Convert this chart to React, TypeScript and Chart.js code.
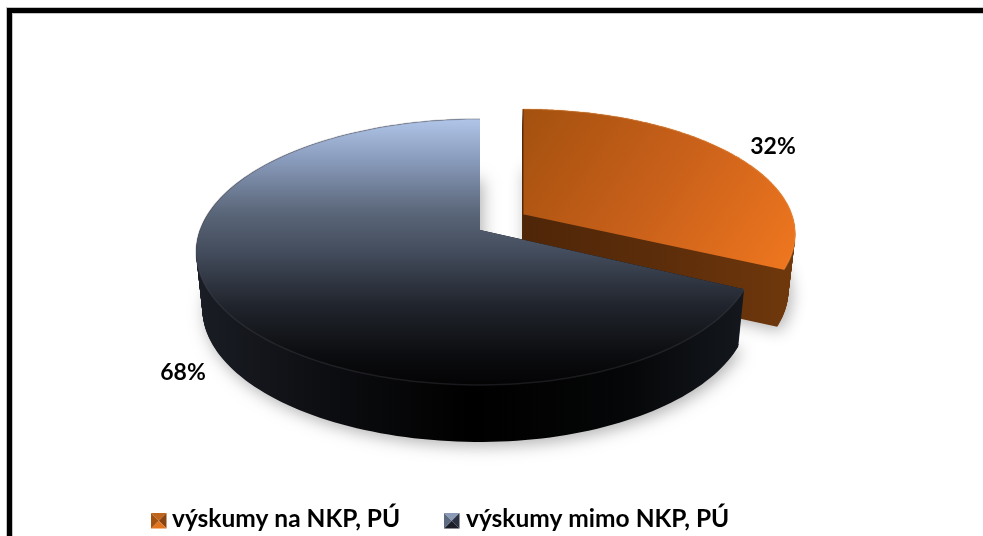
import React, { useEffect, useRef } from "react";
import { Chart, registerables } from "chart.js";

Chart.register(...registerables);

const categories = ["výskumy na NKP, PÚ", "výskumy mimo NKP, PÚ"];
const shares = [32, 68];
const FONT = "Lato, 'Open Sans', sans-serif";

// projection of the unit disc to the tilted, perspective view
const CX = 480, CY = 230, RX = 280, RY = 129.4, K = 0.165, DEPTH = 57;
const SLICE_VIEW = [
  { dx: 43, v: -0.125, scale: 0.98, right: 1 },
  { dx: 0, v: 0, scale: 1, right: 0.97 },
];
const LABEL_XY = [{ x: 773, y: 147 }, { x: 183, y: 373 }];
const LEGEND_XY = [{ marker: 151, text: 172 }, { marker: 444, text: 466 }];
const LEGEND_BASELINE = 527;
const MARKER_COLORS = [
  ["#c0651c", "#8a4410", "#e4751f", "#a3530f"],
  ["#8b9ab6", "#2b3040", "#1a1d25", "#5d6a80"],
];

type View = { dx: number; v: number; scale: number; right: number };

function project(u: number, v: number, s: View) {
  const w = 1 - K * v;
  const uu = u > 0 ? u * s.right : u;
  return { x: CX + s.dx + (RX * uu) / w, y: CY + (RY * v) / w };
}

function slicePoints(a0: number, a1: number, s: View) {
  const pts = [project(0, s.v, s)];
  const n = 160;
  for (let i = 0; i <= n; i++) {
    const a = a0 + ((a1 - a0) * i) / n;
    pts.push(project(s.scale * Math.cos(a), s.scale * Math.sin(a) + s.v, s));
  }
  return pts;
}

function pathOf(ctx: CanvasRenderingContext2D, pts: { x: number; y: number }[], d = 0) {
  const sx = 1 - (0.022 * d) / DEPTH;
  ctx.beginPath();
  pts.forEach((p, i) => {
    const x = CX + (p.x - CX) * sx;
    if (i) ctx.lineTo(x, p.y + d);
    else ctx.moveTo(x, p.y + d);
  });
  ctx.closePath();
}

function stops(g: CanvasGradient, list: [number, string][]) {
  list.forEach(([o, c]) => g.addColorStop(o, c));
  return g;
}

function drawMarker(ctx: CanvasRenderingContext2D, x0: number, y0: number, s: number, colors: string[]) {
  const tri = [
    [x0, y0, x0 + s, y0],
    [x0 + s, y0, x0 + s, y0 + s],
    [x0 + s, y0 + s, x0, y0 + s],
    [x0, y0 + s, x0, y0],
  ];
  tri.forEach((t, i) => {
    ctx.fillStyle = colors[i];
    ctx.beginPath();
    ctx.moveTo(t[0], t[1]);
    ctx.lineTo(t[2], t[3]);
    ctx.lineTo(x0 + s / 2, y0 + s / 2);
    ctx.closePath();
    ctx.fill();
  });
}

const pie3d = {
  id: "pie3d",
  beforeDraw(chart: any) {
    const ctx = chart.ctx;
    ctx.save();
    ctx.fillStyle = "#ffffff";
    ctx.fillRect(0, 0, chart.width, chart.height);
    ctx.fillStyle = "#c4c4c4";
    ctx.fillRect(6, 7, chart.width, 7);
    ctx.fillRect(6, 7, 7, chart.height);
    ctx.fillStyle = "#000000";
    ctx.fillRect(7, 8, chart.width, 5);
    ctx.fillRect(7, 8, 5, chart.height);
    ctx.restore();
  },
  beforeDatasetsDraw(chart: any) {
    const ctx: CanvasRenderingContext2D = chart.ctx;
    const meta = chart.getDatasetMeta(0);
    const sideStops: [number, string][][] = [
      [[0, "#4f2608"], [0.5, "#5c2d0a"], [1, "#70380c"]],
      [[0, "#1a1d25"], [0.25, "#0c0d10"], [0.5, "#000000"], [0.78, "#050607"], [1, "#14181e"]],
    ];
    const topFill = [
      stops(ctx.createLinearGradient(525, 110, 780, 280), [[0, "#a4510f"], [0.5, "#c8601a"], [1, "#ee761f"]]),
      stops(ctx.createLinearGradient(0, 119, 0, 386), [
        [0, "#b0c5e8"],
        [0.15, "#8a9cbd"],
        [0.35, "#5a6679"],
        [0.5, "#434c5c"],
        [0.7, "#20242c"],
        [0.88, "#0c0d10"],
        [1, "#030304"],
      ]),
    ];
    ctx.save();
    [0, 1].forEach((i) => {
      const arc = meta.data[i];
      const pts = slicePoints(arc.startAngle, arc.endAngle, SLICE_VIEW[i]);
      const xs = pts.map((p) => p.x);
      const side = stops(
        ctx.createLinearGradient(Math.min(...xs), 0, Math.max(...xs), 0),
        sideStops[i]
      );
      ctx.save();
      ctx.shadowColor = "rgba(0,0,0,0.3)";
      ctx.shadowBlur = 16;
      ctx.shadowOffsetX = 3;
      ctx.shadowOffsetY = 6;
      ctx.fillStyle = "#000";
      pathOf(ctx, pts, DEPTH - 2);
      ctx.fill();
      ctx.restore();
      ctx.fillStyle = side;
      for (let d = DEPTH; d >= 0; d--) {
        pathOf(ctx, pts, d);
        ctx.fill();
      }
      pathOf(ctx, pts);
      ctx.fillStyle = topFill[i];
      ctx.fill();
      ctx.strokeStyle = i ? "rgba(80,80,90,0.30)" : "rgba(255,170,90,0.30)";
      ctx.lineWidth = 1.5;
      ctx.beginPath();
      pts.slice(1).forEach((p, j) => (j ? ctx.lineTo(p.x, p.y) : ctx.moveTo(p.x, p.y)));
      ctx.stroke();
      if (i === 0) {
        ctx.strokeStyle = "#5a2d0a";
        ctx.lineWidth = 1;
        ctx.beginPath();
        ctx.moveTo(pts[1].x, pts[1].y);
        ctx.lineTo(pts[0].x, pts[0].y);
        ctx.stroke();
      }
    });
    ctx.fillStyle = "#000";
    ctx.font = `bold 23px ${FONT}`;
    ctx.textAlign = "center";
    ctx.textBaseline = "middle";
    shares.forEach((s, i) => ctx.fillText(`${s}%`, LABEL_XY[i].x, LABEL_XY[i].y));

    ctx.font = `bold 24.5px ${FONT}`;
    ctx.textAlign = "left";
    ctx.textBaseline = "alphabetic";
    categories.forEach((text, i) => {
      drawMarker(ctx, LEGEND_XY[i].marker, 513, 15.5, MARKER_COLORS[i]);
      ctx.fillStyle = "#000";
      ctx.fillText(text, LEGEND_XY[i].text, LEGEND_BASELINE);
    });
    ctx.restore();
    return false;
  },
};

export default function App() {
  const ref = useRef<HTMLCanvasElement>(null);
  useEffect(() => {
    const chart = new Chart(ref.current!, {
      type: "pie",
      data: {
        labels: categories,
        datasets: [{ data: shares, backgroundColor: ["#d0681c", "#2a3040"], borderWidth: 0 }],
      },
      options: {
        responsive: false,
        animation: false,
        plugins: {
          tooltip: { enabled: false },
          legend: { display: false },
        },
      } as any,
      plugins: [pie3d],
    });
    return () => chart.destroy();
  }, []);
  return (
    <div style={{ position: "absolute", left: 0, top: 0 }}>
      <canvas ref={ref} width={983} height={536} style={{ display: "block" }} />
    </div>
  );
}
